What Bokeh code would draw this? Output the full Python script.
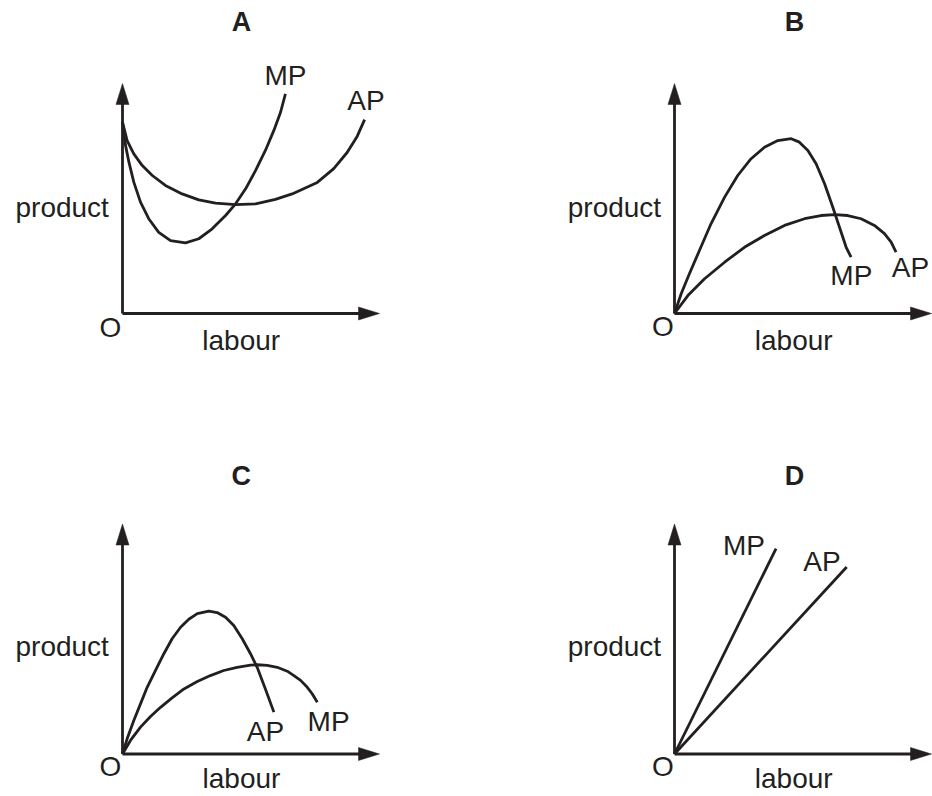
from bokeh.plotting import figure
from bokeh.layouts import gridplot
from bokeh.models import Range1d
from bokeh.core.properties import value
from bokeh.embed import file_html
from bokeh.resources import INLINE

# ---------------- data (labour / product units) ----------------
PANELS = ["A", "B", "C", "D"]
AXIS_MAX = 10.0

# Panel A
A_MP_X = [0.00, 0.12, 0.25, 0.44, 0.70, 1.02, 1.41, 1.87, 2.45, 2.97, 3.49, 4.01, 4.40,
          4.79, 5.18, 5.56, 5.89, 6.15, 6.34]
A_MP_Y = [8.32, 7.30, 6.58, 5.71, 4.84, 4.12, 3.53, 3.17, 3.07, 3.25, 3.68, 4.26, 4.77,
          5.42, 6.22, 7.09, 7.96, 8.75, 9.55]
A_AP_X = [0.00, 0.18, 0.44, 0.77, 1.16, 1.67, 2.32, 2.97, 3.62, 4.40, 5.18, 5.95, 6.60,
          7.58, 8.22, 8.74, 9.13, 9.42]
A_AP_Y = [8.32, 7.52, 6.94, 6.43, 6.00, 5.57, 5.20, 4.94, 4.80, 4.73, 4.77, 4.96, 5.20,
          5.70, 6.30, 7.00, 7.70, 8.43]

# Panel B
B_MP_X = [0.00, 0.26, 0.58, 0.97, 1.42, 1.95, 2.46, 2.98, 3.50, 4.02, 4.54, 4.86, 5.19,
          5.51, 5.84, 6.16, 6.42, 6.68, 6.87]
B_MP_Y = [0.00, 0.86, 1.73, 2.74, 3.90, 5.06, 6.00, 6.73, 7.23, 7.52, 7.60, 7.45, 7.09,
          6.51, 5.64, 4.62, 3.75, 2.88, 2.45]
B_AP_X = [0.00, 0.52, 1.17, 1.95, 2.72, 3.50, 4.28, 5.06, 5.70, 6.23, 6.74, 7.26, 7.78,
          8.17, 8.43, 8.62]
B_AP_Y = [0.00, 0.78, 1.51, 2.23, 2.88, 3.39, 3.83, 4.12, 4.26, 4.30, 4.26, 4.12, 3.83,
          3.47, 3.10, 2.67]

# Panel C (the tall curve is labelled AP, the flat one MP)
C_AP_X = [0.00, 0.18, 0.44, 0.70, 0.96, 1.28, 1.61, 1.93, 2.26, 2.58, 2.91, 3.36, 3.68,
          4.01, 4.33, 4.66, 4.98, 5.24, 5.56, 5.89]
C_AP_Y = [0.00, 0.66, 1.46, 2.18, 2.90, 3.63, 4.36, 5.01, 5.51, 5.86, 6.10, 6.21, 6.15,
          5.95, 5.59, 5.01, 4.36, 3.77, 2.83, 1.82]
C_MP_X = [0.00, 0.31, 0.70, 1.09, 1.48, 1.93, 2.39, 2.91, 3.42, 3.94, 4.46, 4.98, 5.24,
          5.63, 6.02, 6.41, 6.67, 6.93, 7.19, 7.38, 7.58]
C_MP_Y = [0.00, 0.59, 1.17, 1.63, 2.03, 2.44, 2.83, 3.15, 3.41, 3.63, 3.77, 3.86, 3.88,
          3.85, 3.77, 3.60, 3.41, 3.20, 2.90, 2.62, 2.25]

# Panel D (straight lines from the origin)
D_MP_X = [0.0, 3.95]
D_MP_Y = [0.0, 8.93]
D_AP_X = [0.0, 6.70]
D_AP_Y = [0.0, 8.13]

CURVES = {
    "A": [(A_MP_X, A_MP_Y), (A_AP_X, A_AP_Y)],
    "B": [(B_MP_X, B_MP_Y), (B_AP_X, B_AP_Y)],
    "C": [(C_AP_X, C_AP_Y), (C_MP_X, C_MP_Y)],
    "D": [(D_MP_X, D_MP_Y), (D_AP_X, D_AP_Y)],
}

# curve labels: text, x (centre), y (baseline)
CURVE_LABELS = {
    "A": (["MP", "AP"], [6.34, 9.47], [9.91, 8.83]),
    "B": (["MP", "AP"], [6.88, 9.18], [1.22, 1.58]),
    "C": (["AP", "MP"], [5.56, 8.02], [0.53, 0.97]),
    "D": (["MP", "AP"], [2.70, 5.74], [8.62, 7.95]),
}

TITLE_XY = {"A": (4.63, 12.23), "B": (4.67, 12.23), "C": (4.62, 11.66), "D": (4.67, 11.66)}
Y_LABEL = "product"
X_LABEL = "labour"
ORIGIN_LABEL = "O"
Y_LABEL_XY = {"A": (-0.53, 4.19), "B": (-0.52, 4.19), "C": (-0.53, 4.23), "D": (-0.52, 4.23)}
X_LABEL_XY = {"A": (4.62, -1.61), "B": (4.64, -1.61), "C": (4.63, -1.52), "D": (4.64, -1.52)}
O_LABEL_XY = {"A": (-0.47, -1.04), "B": (-0.455, -1.0), "C": (-0.47, -0.99), "D": (-0.455, -0.99)}

# ---------------- layout / style ----------------
W, H = 466, 398
PX_X, PX_Y = 25.7, 23.0           # pixels per data unit
ORIGIN_PX = {"A": (122, 313), "B": (208, 313), "C": (122, 355.5), "D": (208, 355.5)}
INK = "#231f20"
FONT = "Liberation Sans"
LW = 2.8
HEAD_L, HEAD_W = 21.0, 13.0
TEXT_DY = -10  # screen-pixel correction of the rendered baseline


def add_text(p, xs, ys, texts, align, size="28px", style="normal"):
    p.text(x=xs, y=ys, text=texts, text_font=value(FONT), text_font_size=size,
           text_font_style=style, text_color=INK, text_align=align,
           text_baseline="alphabetic", y_offset=TEXT_DY)


def make_panel(key):
    ox, oy = ORIGIN_PX[key]
    p = figure(width=W, height=H, output_backend="svg", toolbar_location=None,
               x_range=Range1d(-ox / PX_X, (W - ox) / PX_X),
               y_range=Range1d(-(H - oy) / PX_Y, oy / PX_Y),
               x_axis_location=None, y_axis_location=None,
               min_border=0, outline_line_color=None,
               background_fill_color="white", border_fill_color="white")
    p.grid.visible = False

    # axes with arrowheads
    hx = HEAD_L / PX_X
    hy = HEAD_L / PX_Y
    p.line([0, AXIS_MAX - hx + 0.05], [0, 0], line_color=INK, line_width=LW)
    p.line([0, 0], [0, AXIS_MAX - hy + 0.05], line_color=INK, line_width=LW)
    p.patch([AXIS_MAX, AXIS_MAX - hx, AXIS_MAX - hx],
            [0, HEAD_W / 2 / PX_Y, -HEAD_W / 2 / PX_Y],
            fill_color=INK, line_color=INK, line_width=0.5)
    p.patch([0, -HEAD_W / 2 / PX_X, HEAD_W / 2 / PX_X],
            [AXIS_MAX, AXIS_MAX - hy, AXIS_MAX - hy],
            fill_color=INK, line_color=INK, line_width=0.5)

    for xs, ys in CURVES[key]:
        p.line(xs, ys, line_color=INK, line_width=LW, line_join="round", line_cap="butt")

    names, lx, ly = CURVE_LABELS[key]
    add_text(p, lx, ly, names, "center")

    tx, ty = TITLE_XY[key]
    add_text(p, [tx], [ty], [key], "center", size="27px", style="bold")

    yx, yy = Y_LABEL_XY[key]
    add_text(p, [yx], [yy], [Y_LABEL], "right")
    xx, xy = X_LABEL_XY[key]
    add_text(p, [xx], [xy], [X_LABEL], "center")
    ox_, oy_ = O_LABEL_XY[key]
    add_text(p, [ox_], [oy_], [ORIGIN_LABEL], "center")
    return p


figs = [make_panel(k) for k in PANELS]
grid = gridplot([[figs[0], figs[1]], [figs[2], figs[3]]], toolbar_location=None)

open("out.html", "w").write(file_html(grid, INLINE))
